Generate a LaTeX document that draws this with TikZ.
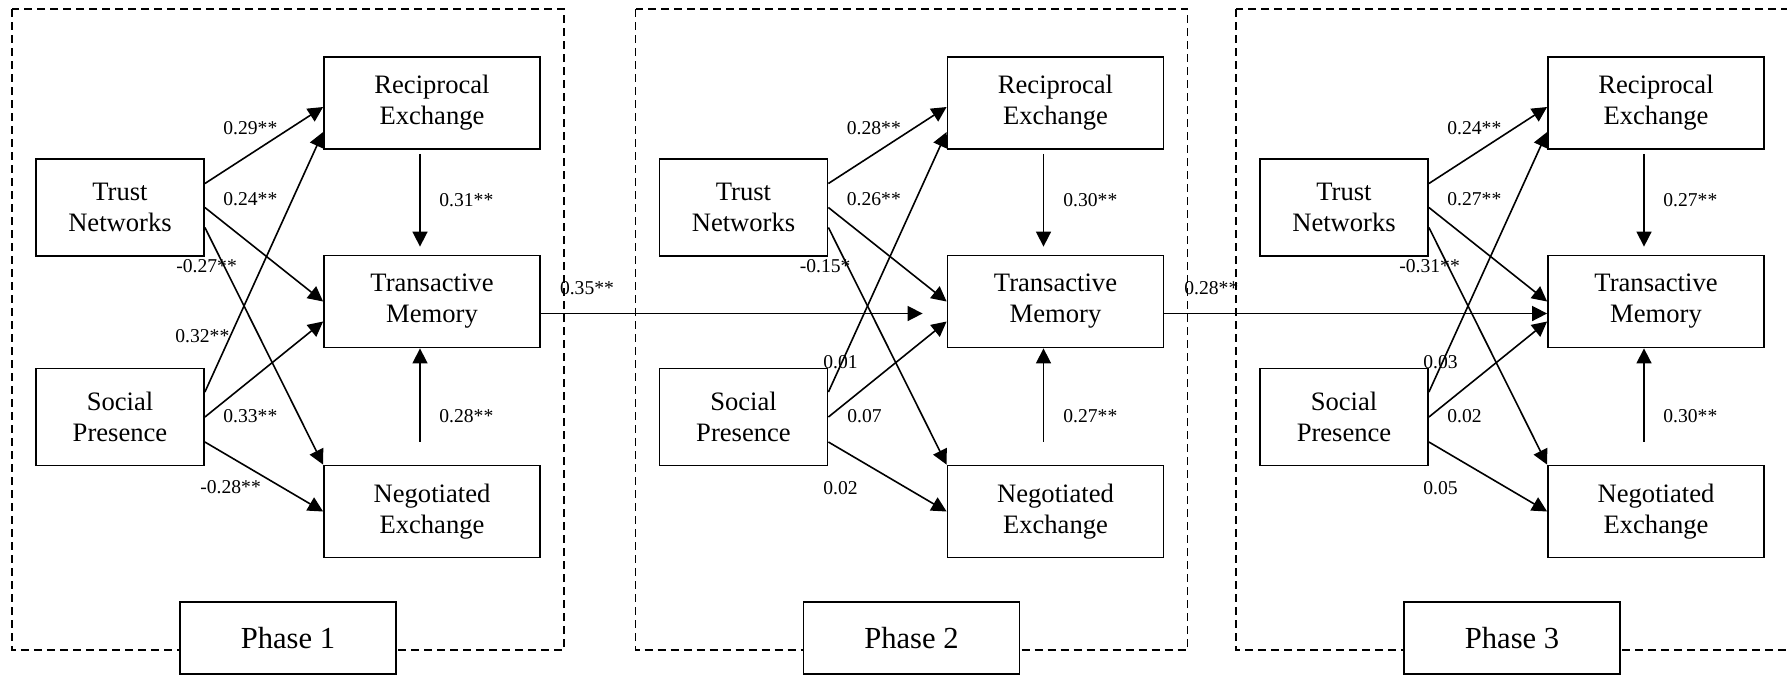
\documentclass[tikz,border=0pt]{standalone}
\usepackage{fontspec}
\setmainfont{Liberation Serif}
\usetikzlibrary{arrows.meta}

\tikzset{
	var/.style={draw, line width=0.9pt, align=center, inner sep=0pt, font=\fontsize{13.3}{15.5}\selectfont},
	smallvar/.style={var, minimum width=84pt, minimum height=48.5pt},
	bigvar/.style={var, minimum width=108pt, minimum height=46pt},
	phase/.style={draw, line width=0.9pt, fill=white, minimum width=108pt, minimum height=36pt, font=\fontsize{15.3}{18}\selectfont},
	coef/.style={anchor=west, inner sep=0pt, font=\fontsize{9.8}{11}\selectfont},
	arr/.style={-{Triangle[length=7.5pt,width=7.5pt]}, line width=0.8pt},
	frame/.style={dash pattern=on 4pt off 2.5pt, line width=0.9pt}
}

\begin{document}
\begin{tikzpicture}[x=0.5pt, y=-0.5pt]
	\useasboundingbox (0,0) rectangle (1787,676);

	\draw[frame] (12,9) rectangle (564,650);
	\node[smallvar] (tn1) at (120,207.5) {Trust\\Networks};
	\node[smallvar] (sp1) at (120,417) {Social\\Presence};
	\node[bigvar] (re1) at (432,103) {Reciprocal\\Exchange};
	\node[bigvar] (tm1) at (432,301.5) {Transactive\\Memory};
	\node[bigvar] (ne1) at (432,511.5) {Negotiated\\Exchange};
	\node[phase] (ph1) at (288,638) {Phase 1};
	\draw[arr] ([yshift=12pt]tn1.east) -- ([yshift=-2pt]re1.west);
	\draw[arr] (tn1.east) -- (tm1.west);
	\draw[arr] ([yshift=-10pt]tn1.east) -- (ne1.north west);
	\draw[arr] ([yshift=12.5pt]sp1.east) -- ([yshift=-14.5pt]re1.west);
	\draw[arr] (sp1.east) -- ([yshift=-10pt]tm1.west);
	\draw[arr] ([yshift=-12.5pt]sp1.east) -- (ne1.west);
	\draw[arr, shorten <=2pt, shorten >=4pt] ([xshift=-6pt]re1.south) -- ([xshift=-6pt]tm1.north);
	\draw[arr, shorten <=11.5pt] ([xshift=-6pt]ne1.north) -- ([xshift=-6pt]tm1.south);
	\node[coef] (c1a) at (223,128) {0.29**};
	\node[coef] (c1b) at (223,199) {0.24**};
	\node[coef] (c1c) at (176,266) {-0.27**};
	\node[coef] (c1d) at (175,336) {0.32**};
	\node[coef] (c1e) at (223,416) {0.33**};
	\node[coef] (c1f) at (200,487) {-0.28**};
	\node[coef] (c1g) at (439,200) {0.31**};
	\node[coef] (c1h) at (439,416) {0.28**};

	\begin{scope}[shift={(623.5,0)}]
	\draw[frame] (12,9) rectangle (564,650);
	\node[smallvar] (tn2) at (120,207.5) {Trust\\Networks};
	\node[smallvar] (sp2) at (120,417) {Social\\Presence};
	\node[bigvar] (re2) at (432,103) {Reciprocal\\Exchange};
	\node[bigvar] (tm2) at (432,301.5) {Transactive\\Memory};
	\node[bigvar] (ne2) at (432,511.5) {Negotiated\\Exchange};
	\node[phase] (ph2) at (288,638) {Phase 2};
	\draw[arr] ([yshift=12pt]tn2.east) -- ([yshift=-2pt]re2.west);
	\draw[arr] (tn2.east) -- (tm2.west);
	\draw[arr] ([yshift=-10pt]tn2.east) -- (ne2.north west);
	\draw[arr] ([yshift=12.5pt]sp2.east) -- ([yshift=-14.5pt]re2.west);
	\draw[arr] (sp2.east) -- ([yshift=-10pt]tm2.west);
	\draw[arr] ([yshift=-12.5pt]sp2.east) -- (ne2.west);
	\draw[arr, shorten <=2pt, shorten >=4pt] ([xshift=-6pt]re2.south) -- ([xshift=-6pt]tm2.north);
	\draw[arr, shorten <=11.5pt] ([xshift=-6pt]ne2.north) -- ([xshift=-6pt]tm2.south);
	\node[coef] (c2a) at (223,128) {0.28**};
	\node[coef] (c2b) at (223,199) {0.26**};
	\node[coef] (c2c) at (176,266) {-0.15*};
	\node[coef] (c2d) at (199.5,362) {0.01};
	\node[coef] (c2e) at (223.5,416) {0.07};
	\node[coef] (c2f) at (199.5,488) {0.02};
	\node[coef] (c2g) at (439.5,200) {0.30**};
	\node[coef] (c2h) at (439.5,416) {0.27**};
	\end{scope}

	\begin{scope}[shift={(1224,0)}]
	\draw[frame] (12,9) rectangle (564,650);
	\node[smallvar] (tn3) at (120,207.5) {Trust\\Networks};
	\node[smallvar] (sp3) at (120,417) {Social\\Presence};
	\node[bigvar] (re3) at (432,103) {Reciprocal\\Exchange};
	\node[bigvar] (tm3) at (432,301.5) {Transactive\\Memory};
	\node[bigvar] (ne3) at (432,511.5) {Negotiated\\Exchange};
	\node[phase] (ph3) at (288,638) {Phase 3};
	\draw[arr] ([yshift=12pt]tn3.east) -- ([yshift=-2pt]re3.west);
	\draw[arr] (tn3.east) -- (tm3.west);
	\draw[arr] ([yshift=-10pt]tn3.east) -- (ne3.north west);
	\draw[arr] ([yshift=12.5pt]sp3.east) -- ([yshift=-14.5pt]re3.west);
	\draw[arr] (sp3.east) -- ([yshift=-10pt]tm3.west);
	\draw[arr] ([yshift=-12.5pt]sp3.east) -- (ne3.west);
	\draw[arr, shorten <=2pt, shorten >=4pt] ([xshift=-6pt]re3.south) -- ([xshift=-6pt]tm3.north);
	\draw[arr, shorten <=11.5pt] ([xshift=-6pt]ne3.north) -- ([xshift=-6pt]tm3.south);
	\node[coef] (c3a) at (223,128) {0.24**};
	\node[coef] (c3b) at (223,199) {0.27**};
	\node[coef] (c3c) at (175,266) {-0.31**};
	\node[coef] (c3d) at (199,362) {0.03};
	\node[coef] (c3e) at (223,416) {0.02};
	\node[coef] (c3f) at (199,488) {0.05};
	\node[coef] (c3g) at (439,200) {0.27**};
	\node[coef] (c3h) at (439,416) {0.30**};
	\end{scope}

	\draw[arr, shorten >=12pt] ([yshift=-6pt]tm1.east) -- ([yshift=-6pt]tm2.west);
	\node[coef] (c12) at (559.6,288) {0.35**};
	\draw[arr] ([yshift=-6pt]tm2.east) -- ([yshift=-6pt]tm3.west);
	\node[coef] (c23) at (1184,288) {0.28**};
\end{tikzpicture}
\end{document}
